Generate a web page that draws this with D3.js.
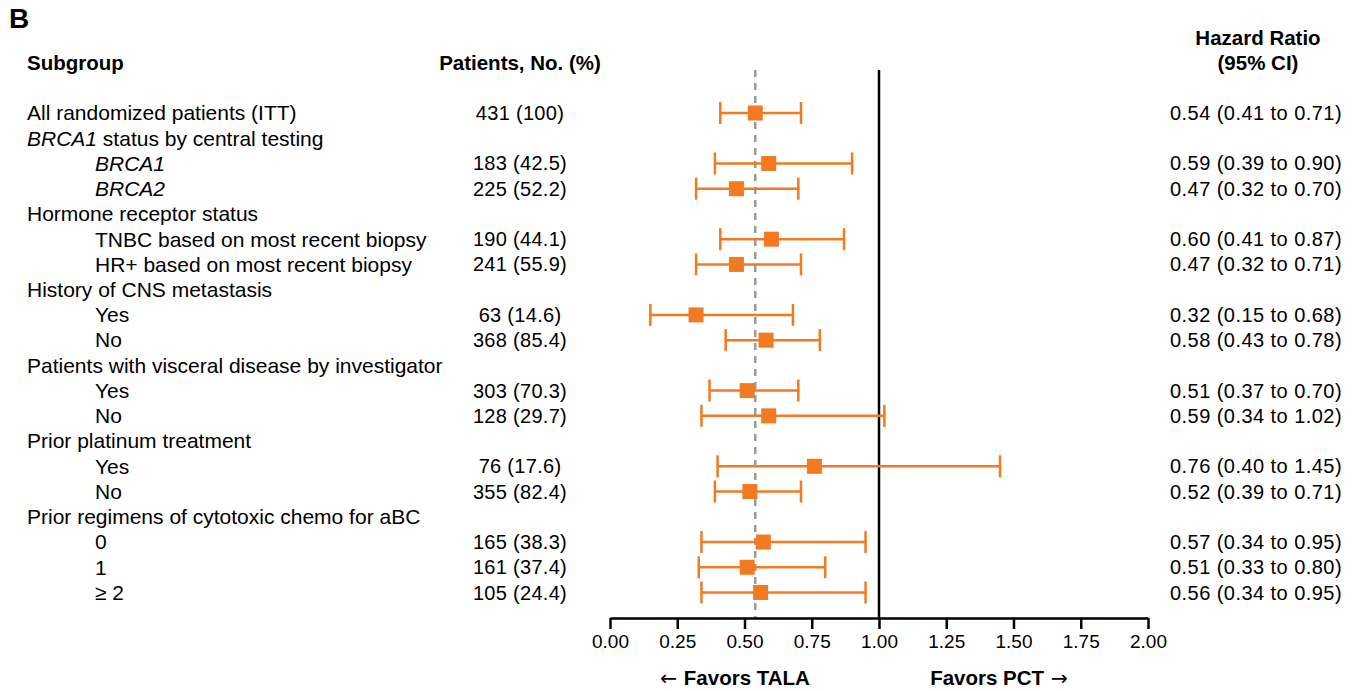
<!DOCTYPE html>
<html>
<head>
<meta charset="utf-8">
<script src="https://cdn.jsdelivr.net/npm/d3@7"></script>
<style>
  body { margin: 0; background: #fff; }
  svg { font-family: "Liberation Sans", Arial, sans-serif; }
</style>
</head>
<body>
<script>
const width = 1367;
const height = 691;

// rows of the forest plot (headers have no values)
const labels = [
  "All randomized patients (ITT)",
  "BRCA1 status by central testing",
  "BRCA1",
  "BRCA2",
  "Hormone receptor status",
  "TNBC based on most recent biopsy",
  "HR+ based on most recent biopsy",
  "History of CNS metastasis",
  "Yes",
  "No",
  "Patients with visceral disease by investigator",
  "Yes",
  "No",
  "Prior platinum treatment",
  "Yes",
  "No",
  "Prior regimens of cytotoxic chemo for aBC",
  "0",
  "1",
  "\u2265 2",
];
const indented = [0, 0, 1, 1, 0, 1, 1, 0, 1, 1, 0, 1, 1, 0, 1, 1, 0, 1, 1, 1];
const patients = ["431 (100)", null, "183 (42.5)", "225 (52.2)", null, "190 (44.1)", "241 (55.9)", null,
  "63 (14.6)", "368 (85.4)", null, "303 (70.3)", "128 (29.7)", null, "76 (17.6)", "355 (82.4)", null,
  "165 (38.3)", "161 (37.4)", "105 (24.4)"];
const hr = [0.54, null, 0.59, 0.47, null, 0.60, 0.47, null, 0.32, 0.58, null, 0.51, 0.59, null, 0.76, 0.52, null, 0.57, 0.51, 0.56];
const lower = [0.41, null, 0.39, 0.32, null, 0.41, 0.32, null, 0.15, 0.43, null, 0.37, 0.34, null, 0.40, 0.39, null, 0.34, 0.33, 0.34];
const upper = [0.71, null, 0.90, 0.70, null, 0.87, 0.71, null, 0.68, 0.78, null, 0.70, 1.02, null, 1.45, 0.71, null, 0.95, 0.80, 0.95];
const overallHr = 0.54;
const xTicks = [0, 0.25, 0.5, 0.75, 1, 1.25, 1.5, 1.75, 2];

const orange = "#f47a22";
const fontSize = 20;
const labelSize = 21;
const headSize = 20.5;

const svg = d3.select("body").append("svg")
  .attr("width", width)
  .attr("height", height);

const x = d3.scaleLinear().domain([0, 2]).range([610, 1148]);
const y = d3.scaleLinear().domain([0, labels.length - 1]).range([113, 592.5]);
const axisY = 618;
const topY = 70;

// panel letter
svg.append("text")
  .text("B")
  .attr("x", 9).attr("y", 28)
  .attr("font-size", 28).attr("font-weight", "bold");

// column headers
const headers = [
  { t: "Subgroup", x: 27, y: 70, anchor: "start" },
  { t: "Patients, No. (%)", x: 520, y: 70, anchor: "middle" },
  { t: "Hazard Ratio", x: 1258, y: 45, anchor: "middle" },
  { t: "(95% CI)", x: 1258, y: 70, anchor: "middle" },
];
svg.selectAll("text.header").data(headers).enter().append("text")
  .attr("class", "header")
  .attr("x", (d) => d.x).attr("y", (d) => d.y)
  .attr("text-anchor", (d) => d.anchor)
  .attr("font-size", headSize).attr("font-weight", "bold")
  .text((d) => d.t);

// row labels
const labelG = svg.append("g");
labels.forEach((lab, i) => {
  const t = labelG.append("text")
    .attr("x", indented[i] ? 95 : 27)
    .attr("y", y(i))
    .attr("dy", "0.35em")
    .attr("font-size", labelSize);
  if (lab.startsWith("BRCA")) {
    const parts = lab.split(" ");
    t.append("tspan").attr("font-style", "italic").text(parts[0]);
    if (parts.length > 1) t.append("tspan").text(" " + parts.slice(1).join(" "));
  } else {
    t.text(lab);
  }
});

const rows = labels.map((d, i) => ({ i, n: patients[i], hr: hr[i], lo: lower[i], hi: upper[i] }))
  .filter((d) => d.hr !== null);

svg.selectAll("text.pat").data(rows).enter().append("text")
  .attr("class", "pat")
  .attr("x", 520).attr("y", (d) => y(d.i)).attr("dy", "0.35em")
  .attr("text-anchor", "middle").attr("font-size", fontSize)
  .attr("letter-spacing", 0.3)
  .text((d) => d.n);

const f2 = d3.format(".2f");
svg.selectAll("text.hr").data(rows).enter().append("text")
  .attr("class", "hr")
  .attr("x", 1342).attr("y", (d) => y(d.i)).attr("dy", "0.35em")
  .attr("text-anchor", "end").attr("font-size", fontSize)
  .attr("letter-spacing", 0.45)
  .text((d) => `${f2(d.hr)} (${f2(d.lo)} to ${f2(d.hi)})`);

// reference lines
svg.append("line")
  .attr("x1", x(overallHr)).attr("x2", x(overallHr))
  .attr("y1", topY).attr("y2", axisY)
  .attr("stroke", "#9a9a9a").attr("stroke-width", 2.5)
  .attr("stroke-dasharray", "7,6");

svg.append("line")
  .attr("x1", x(1)).attr("x2", x(1))
  .attr("y1", topY).attr("y2", axisY)
  .attr("stroke", "#000").attr("stroke-width", 2.5);

// error bars
const bars = svg.append("g").selectAll("g").data(rows).enter().append("g");
bars.append("line")
  .attr("x1", (d) => x(d.lo)).attr("x2", (d) => x(d.hi))
  .attr("y1", (d) => y(d.i)).attr("y2", (d) => y(d.i))
  .attr("stroke", orange).attr("stroke-width", 2.5);
["lo", "hi"].forEach((k) => {
  bars.append("line")
    .attr("x1", (d) => x(d[k])).attr("x2", (d) => x(d[k]))
    .attr("y1", (d) => y(d.i) - 11).attr("y2", (d) => y(d.i) + 11)
    .attr("stroke", orange).attr("stroke-width", 2.5);
});
bars.append("rect")
  .attr("x", (d) => x(d.hr) - 7.5).attr("y", (d) => y(d.i) - 7.5)
  .attr("width", 15).attr("height", 15)
  .attr("fill", orange);

// x axis
const xAxis = d3.axisBottom(x).tickValues(xTicks).tickFormat(f2).tickSize(11).tickSizeOuter(0).tickPadding(6);
svg.append("g")
  .attr("transform", `translate(0, ${axisY})`)
  .call(xAxis)
  .call((g) => g.select(".domain").attr("stroke-width", 2.5))
  .call((g) => g.selectAll(".tick line").attr("stroke-width", 2.5))
  .call((g) => g.selectAll(".tick text").attr("font-size", 19).attr("fill", "#000")
    .attr("font-family", "'Liberation Sans', Arial, sans-serif"));

const favors = [
  { arrowL: "\u2190 ", t: "Favors TALA", arrowR: "", x: 735 },
  { arrowL: "", t: "Favors PCT", arrowR: " \u2192", x: 999 },
];
favors.forEach((f) => {
  const t = svg.append("text")
    .attr("x", f.x).attr("y", 685)
    .attr("text-anchor", "middle").attr("font-size", headSize).attr("font-weight", "bold");
  if (f.arrowL) t.append("tspan").attr("font-family", "'DejaVu Sans', sans-serif").attr("font-weight", "normal").text(f.arrowL);
  t.append("tspan").text(f.t);
  if (f.arrowR) t.append("tspan").attr("font-family", "'DejaVu Sans', sans-serif").attr("font-weight", "normal").text(f.arrowR);
});
</script>
</body>
</html>
